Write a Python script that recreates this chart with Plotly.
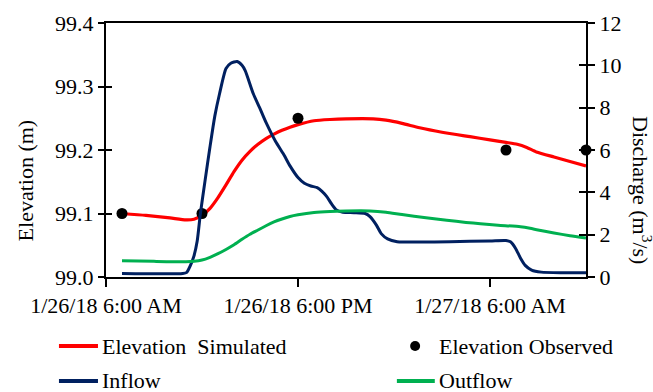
import pandas as pd
import plotly.graph_objects as go

# Time axis origin; all series are given as hours after this instant
start = pd.Timestamp("2018-01-26 06:00")

# Simulated reservoir elevation (m)
sim_hours = [1.0, 2.5, 4.0, 5.0, 5.5, 6.0, 6.5, 7.0, 7.5, 8.0, 8.5, 9.0, 9.5, 10.0,
             10.5, 11.0, 11.5, 12.0, 13.0, 14.0, 15.0, 16.7, 17.5, 18.5, 19.6, 21.0,
             22.75, 24.0, 25.0, 25.7, 26.3, 26.9, 28.0, 29.0, 30.0]
sim_elev = [99.100, 99.097, 99.093, 99.090, 99.091, 99.097, 99.108, 99.125, 99.145,
            99.166, 99.184, 99.198, 99.209, 99.218, 99.225, 99.231, 99.236, 99.240,
            99.246, 99.248, 99.249, 99.249, 99.247, 99.242, 99.235, 99.228, 99.221,
            99.216, 99.212, 99.209, 99.204, 99.197, 99.189, 99.182, 99.175]

# Observed reservoir elevation (m)
obs_hours = [1.0, 6.0, 12.0, 25.0, 30.0]
obs_elev = [99.10, 99.10, 99.25, 99.20, 99.20]

# Inflow discharge (m3/s)
in_hours = [1.0, 4.8, 5.05, 5.25, 5.5, 5.7, 5.9, 6.2, 6.5, 6.8, 7.1, 7.5, 7.8, 8.2,
            8.5, 8.7, 9.2, 9.6, 10.0, 10.6, 11.1, 11.5, 12.0, 12.4, 12.8, 13.2, 13.5,
            13.8, 14.1, 14.4, 14.8, 15.5, 16.2, 16.5, 16.9, 17.2, 17.6, 18.2, 19.5,
            21.5, 24.0, 25.0, 25.3, 25.6, 25.9, 26.2, 26.6, 27.2, 28.5, 30.0]
in_flow = [0.17, 0.17, 0.22, 0.5, 1.0, 1.7, 3.0, 4.6, 6.15, 7.6, 8.67, 9.85, 10.1,
           10.18, 10.0, 9.75, 8.67, 8.0, 7.3, 6.4, 5.8, 5.25, 4.7, 4.43, 4.3, 4.22,
           4.05, 3.8, 3.45, 3.17, 3.06, 3.04, 3.0, 2.85, 2.45, 2.05, 1.8, 1.67, 1.65,
           1.67, 1.70, 1.72, 1.65, 1.35, 0.9, 0.55, 0.33, 0.23, 0.2, 0.2]

# Outflow discharge (m3/s)
out_hours = [1.0, 3.0, 5.0, 5.5, 6.0, 6.5, 7.0, 7.5, 8.0, 8.5, 9.0, 9.5, 10.0, 10.5,
             11.0, 11.5, 12.0, 13.0, 14.0, 15.0, 16.5, 17.5, 18.5, 20.0, 21.3, 22.5,
             23.4, 24.5, 25.9, 26.5, 27.0, 28.0, 29.0, 30.0]
out_flow = [0.77, 0.74, 0.72, 0.74, 0.80, 0.93, 1.10, 1.30, 1.52, 1.78, 2.02, 2.22,
            2.42, 2.60, 2.74, 2.86, 2.94, 3.05, 3.10, 3.12, 3.12, 3.06, 2.95, 2.80,
            2.68, 2.58, 2.52, 2.45, 2.37, 2.30, 2.22, 2.08, 1.95, 1.84]

x_tick_text = ["1/26/18 6:00 AM", "1/26/18 6:00 PM", "1/27/18 6:00 AM"]
x_tick_hours = [0, 12, 24]

RED = "#FF0000"
NAVY = "#002060"
GREEN = "#00B050"
FONT = "Liberation Serif, Times New Roman, serif"


def t(hours):
    return start + pd.to_timedelta(hours, unit="h")


fig = go.Figure()
fig.add_trace(go.Scatter(x=t(sim_hours), y=sim_elev, mode="lines",
                         line=dict(color=RED, width=3.2, shape="spline", smoothing=0.6),
                         name="Elevation  Simulated"))
fig.add_trace(go.Scatter(x=t(in_hours), y=in_flow, mode="lines", yaxis="y2",
                         line=dict(color=NAVY, width=3, shape="spline", smoothing=0.6),
                         name="Inflow"))
fig.add_trace(go.Scatter(x=t(out_hours), y=out_flow, mode="lines", yaxis="y2",
                         line=dict(color=GREEN, width=3, shape="spline", smoothing=0.6),
                         name="Outflow"))
fig.add_trace(go.Scatter(x=t(obs_hours), y=obs_elev, mode="markers",
                         marker=dict(color="black", size=11),
                         name="Elevation Observed", cliponaxis=False))
# empty traces that carry the inward halves of the crossing tick marks
fig.add_trace(go.Scatter(x=[], y=[], xaxis="x2", yaxis="y3", showlegend=False))
fig.add_trace(go.Scatter(x=[], y=[], xaxis="x2", yaxis="y4", showlegend=False))

x_range = [t(0), t(30)]
tick_font = dict(family=FONT, size=22, color="black")

fig.update_layout(
    width=653, height=392,
    margin=dict(l=106, r=67, t=23, b=115),
    paper_bgcolor="white", plot_bgcolor="white",
    showlegend=False,
    font=dict(family=FONT, size=22, color="black"),
    xaxis=dict(range=x_range, tickvals=list(t(x_tick_hours)), ticktext=x_tick_text,
               ticks="outside", ticklen=8, tickwidth=1.5, tickcolor="black",
               showline=True, linecolor="black", linewidth=2, mirror=True,
               showgrid=False, zeroline=False, tickfont=tick_font),
    xaxis2=dict(range=x_range, overlaying="x", tickvals=list(t(x_tick_hours)),
                ticks="inside", ticklen=6, tickwidth=1.5, tickcolor="black",
                showticklabels=False, showline=False, showgrid=False, zeroline=False),
    yaxis=dict(range=[99.0, 99.4], dtick=0.1, tickformat=".1f",
               ticks="outside", ticklen=6, tickwidth=1.5, tickcolor="black",
               showline=True, linecolor="black", linewidth=2, mirror=True,
               showgrid=False, zeroline=False, tickfont=tick_font),
    yaxis2=dict(range=[0, 12], dtick=2, overlaying="y", side="right",
                ticks="outside", ticklen=7, tickwidth=1.5, tickcolor="black",
                showline=True, linecolor="black", linewidth=2,
                showgrid=False, zeroline=False, tickfont=tick_font),
    yaxis3=dict(range=[99.0, 99.4], dtick=0.1, overlaying="y", side="left",
                ticks="inside", ticklen=6, tickwidth=1.5, tickcolor="black",
                showticklabels=False, showline=False, showgrid=False, zeroline=False),
    yaxis4=dict(range=[0, 12], dtick=2, overlaying="y", side="right",
                ticks="inside", ticklen=7, tickwidth=1.5, tickcolor="black",
                showticklabels=False, showline=False, showgrid=False, zeroline=False),
)

# Axis titles
fig.add_annotation(text="Elevation (m)", xref="paper", yref="paper",
                   x=-0.196, y=0.382, textangle=-90, showarrow=False,
                   font=dict(family=FONT, size=22, color="black"))
fig.add_annotation(text="Discharge (m<sup>3</sup>/s)", xref="paper", yref="paper",
                   x=1.15, y=0.3425, textangle=90, showarrow=False,
                   font=dict(family=FONT, size=22, color="black"))

# Legend drawn below the plot in two columns
legend_rows = [-0.2717, -0.4094]
legend_items = [
    ("line", RED, -0.098, -0.0167, legend_rows[0], "Elevation  Simulated", -0.0125),
    ("dot", "black", 0.644, 0.644, legend_rows[0], "Elevation Observed", 0.6896),
    ("line", NAVY, -0.098, -0.0167, legend_rows[1], "Inflow", -0.0125),
    ("line", GREEN, 0.606, 0.685, legend_rows[1], "Outflow", 0.6896),
]
for kind, color, x0, x1, y, label, tx in legend_items:
    if kind == "line":
        fig.add_shape(type="line", xref="paper", yref="paper", x0=x0, x1=x1,
                      y0=y, y1=y, line=dict(color=color, width=4))
    else:
        fig.add_shape(type="circle", xref="paper", yref="paper",
                      xsizemode="pixel", ysizemode="pixel",
                      xanchor=x0, yanchor=y, x0=-5, x1=5, y0=-5, y1=5,
                      fillcolor=color, line=dict(color=color, width=0))
    fig.add_annotation(text=label, xref="paper", yref="paper", x=tx, y=y,
                       xanchor="left", yanchor="middle", showarrow=False,
                       font=dict(family=FONT, size=22, color="black"))

fig.write_html("out.html")
